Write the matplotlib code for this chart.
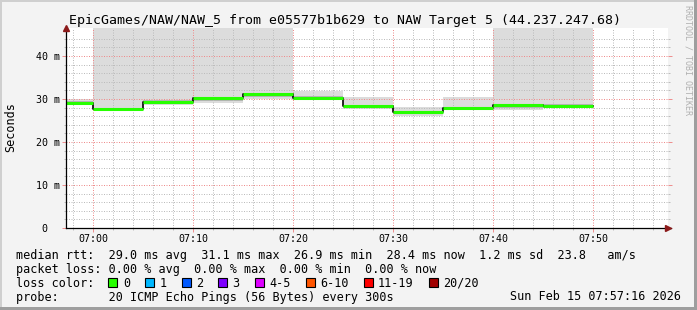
import numpy as np
from matplotlib import pyplot as plt
from matplotlib.patches import Rectangle
from matplotlib.ticker import FixedLocator, FuncFormatter

# 5 minute steps, start time of each step
seg_start = ['06:55', '07:00', '07:05', '07:10', '07:15', '07:20',
             '07:25', '07:30', '07:35', '07:40', '07:45']
median = [29.1, 27.7, 29.4, 30.2, 31.1, 30.3, 28.4, 26.9, 27.9, 28.5, 28.4]
smoke_lo = [28.6, 27.3, 28.7, 29.1, 29.9, 29.8, 27.7, 26.0, 27.4, 27.4, 28.1]
smoke_hi = [30.0, 74.2, 58.6, 49.8, 66.1, 31.9, 30.5, 28.2, 30.5, 83.5, 52.0]
core_lo = [28.7, 27.3, 28.9, 29.6, 30.5, 29.8, 27.9, 26.5, 27.5, 28.0, 28.0]
core_hi = [29.5, 28.0, 29.7, 30.5, 31.4, 30.6, 28.7, 27.2, 28.2, 28.8, 28.8]

x_ticks = ['07:00', '07:10', '07:20', '07:30', '07:40', '07:50']
y_ticks = [0, 10, 20, 30, 40]

loss_labels = ['0', '1', '2', '3', '4-5', '6-10', '11-19', '20/20']
loss_colors = ['#26ff00', '#00b8ff', '#0059ff', '#7e00ff', '#dd00ff',
               '#ff5500', '#ff0000', '#a10000']

title = 'EpicGames/NAW/NAW_5 from e05577b1b629 to NAW Target 5 (44.237.247.68)'
rtt_stats = ['29.0', '31.1', '26.9', '28.4']
rtt_sd = '1.2'
am_s = '23.8'
loss_stats = ['0.00', '0.00', '0.00', '0.00']
probe = '20 ICMP Echo Pings (56 Bytes) every 300s'
stamp = 'Sun Feb 15 07:57:16 2026'


def to_min(s):
    h, m = s.split(':')
    return int(h) * 60 + int(m)


W, H = 697, 310
MONO = 'DejaVu Sans Mono'
GREEN = loss_colors[0]

fig = plt.figure(figsize=(W / 100, H / 100), dpi=100)
fig.patch.set_facecolor('#f3f3f3')

ax = fig.add_axes([66 / W, (H - 228) / H, (668 - 66) / W, 200 / H])
ax.set_facecolor('white')

starts = np.array([to_min(s) for s in seg_start], dtype=float)
ends = starts + 5

# smoke
ax.bar(starts, np.array(smoke_hi) - np.array(smoke_lo), bottom=smoke_lo,
       width=5, align='edge', color='#dcdcdc', linewidth=0, zorder=1)
ax.bar(starts, np.array(core_hi) - np.array(core_lo), bottom=core_lo,
       width=5, align='edge', color='#b4b4b4', linewidth=0, zorder=1.1)

# median line
edges = np.append(starts, ends[-1])
ax.step(edges, median + [median[-1]], where='post', color='black',
        linewidth=1.2, zorder=3)
ax.hlines(median, starts, ends, color=GREEN, linewidth=2.2, zorder=3.5)

t0 = to_min('07:00')
ax.set_xlim(t0 - 2.7, t0 + 57.5)
ax.set_ylim(0, 46.5)

ax.xaxis.set_major_locator(FixedLocator([to_min(s) for s in x_ticks]))
ax.xaxis.set_minor_locator(FixedLocator(np.arange(t0 - 2, t0 + 58, 2)))
ax.xaxis.set_major_formatter(FuncFormatter(
    lambda v, p: '%02d:%02d' % (int(v) // 60, int(v) % 60)))
ax.yaxis.set_major_locator(FixedLocator(y_ticks))
ax.yaxis.set_minor_locator(FixedLocator(np.arange(0, 46, 2)))
ax.yaxis.set_major_formatter(FuncFormatter(
    lambda v, p: '0  ' if v == 0 else '%d m' % v))

ax.set_axisbelow(False)
ax.grid(which='minor', color='#bcbcbc', linestyle=(0, (1, 1.5)), linewidth=0.72)
ax.grid(which='major', color='#ee8c8c', linestyle=(0, (1, 1.5)), linewidth=0.72)

for s in ['top', 'right']:
    ax.spines[s].set_visible(False)
for s in ['left', 'bottom']:
    ax.spines[s].set_color('black')
    ax.spines[s].set_linewidth(0.9)
    ax.spines[s].set_zorder(4)

ax.tick_params(which='major', direction='out', length=2.9, width=0.7,
               color='#ee8c8c', labelsize=7.2, pad=1.4)
ax.tick_params(which='minor', direction='out', length=1.5, width=0.7,
               color='#bcbcbc')
ax.tick_params(axis='y', which='both', right=True)
for lab in ax.get_xticklabels() + ax.get_yticklabels():
    lab.set_fontfamily(MONO)

# axis arrows
arrow_c = '#8b1a1a'
ax.plot([1.0], [0], marker='>', markersize=4.5, color=arrow_c,
        transform=ax.transAxes, clip_on=False, zorder=5)
ax.plot([1.0, 1.0 + 3 / 602], [0, 0], color='black', linewidth=0.9,
        transform=ax.transAxes, clip_on=False, zorder=4)
ax.plot([0], [1.0], marker='^', markersize=4.5, color=arrow_c,
        transform=ax.transAxes, clip_on=False, zorder=5)

# texts
def fx(px):
    return px / W


def fy(py):
    return 1 - py / H


fig.text(fx(345), fy(24), title, family=MONO, fontsize=9.5,
         ha='center', va='baseline')
fig.text(fx(11), fy(127), 'Seconds', family=MONO, fontsize=8.5,
         rotation=90, ha='center', va='center')
fig.text(fx(688), fy(5), 'RRDTOOL / TOBI OETIKER', family=MONO, fontsize=6,
         rotation=270, ha='center', va='top', color='#b0b0b0')

row1 = ('median rtt:  %s ms avg  %s ms max  %s ms min  %s ms now  '
        '%s ms sd  %s   am/s' % tuple(rtt_stats + [rtt_sd, am_s]))
row2 = 'packet loss: %s %% avg  %s %% max  %s %% min  %s %% now' % tuple(loss_stats)
row4 = 'probe:       ' + probe
fs = 8.5
fig.text(fx(16), fy(259), row1, family=MONO, fontsize=fs, va='baseline')
fig.text(fx(16), fy(273), row2, family=MONO, fontsize=fs, va='baseline')
fig.text(fx(16), fy(287), 'loss color:', family=MONO, fontsize=fs, va='baseline')
fig.text(fx(16), fy(300.5), row4, family=MONO, fontsize=fs, va='baseline')
fig.text(fx(681), fy(300.5), stamp, family=MONO, fontsize=fs,
         va='baseline', ha='right')

x = 108.3
for lab, col in zip(loss_labels, loss_colors):
    fig.add_artist(Rectangle((fx(x), fy(287)), 9 / W, 9 / H,
                             transform=fig.transFigure, facecolor=col,
                             edgecolor='black', linewidth=0.8))
    fig.text(fx(x + 14.5), fy(287), lab, family=MONO, fontsize=fs,
             va='baseline')
    x += 29.5 + 7.12 * len(lab)

# 3d frame
fig.add_artist(Rectangle((0, 1 - 2 / H), 1, 2 / H, transform=fig.transFigure,
                         facecolor='#cfcfcf', linewidth=0))
fig.add_artist(Rectangle((0, 0), 2 / W, 1, transform=fig.transFigure,
                         facecolor='#cfcfcf', linewidth=0))
fig.add_artist(Rectangle((0, 0), 1, 3 / H, transform=fig.transFigure,
                         facecolor='#9e9e9e', linewidth=0))
fig.add_artist(Rectangle((1 - 3 / W, 0), 3 / W, 1, transform=fig.transFigure,
                         facecolor='#9e9e9e', linewidth=0))

fig.savefig('out.png', dpi=100, facecolor=fig.get_facecolor())
